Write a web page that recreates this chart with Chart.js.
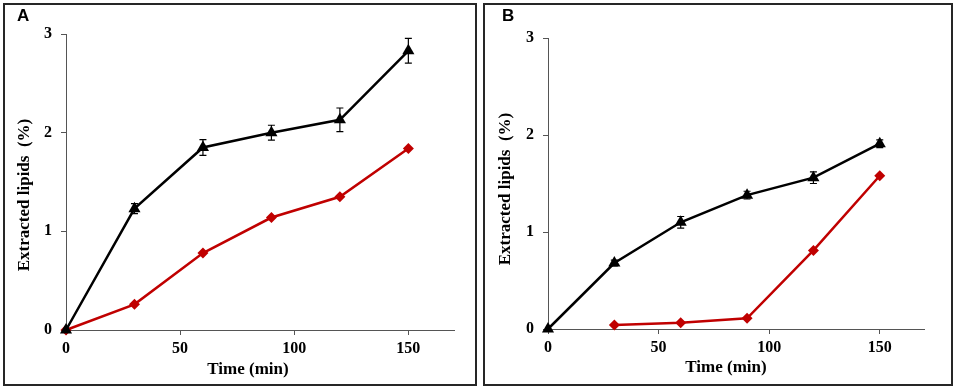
<!DOCTYPE html>
<html><head><meta charset="utf-8">
<script src="https://cdn.jsdelivr.net/npm/chart.js@4.4.1/dist/chart.umd.min.js"></script>
<style>
html,body{margin:0;padding:0;background:#fff}
body{width:957px;height:390px;position:relative;overflow:hidden}
.box{position:absolute;border:2px solid #262626;box-sizing:border-box}
#boxA{left:3px;top:3px;width:474px;height:383px}
#boxB{left:483px;top:3px;width:470px;height:383px}
canvas{position:absolute}
#cA{left:5px;top:5px}
#cB{left:486px;top:5px}
</style></head>
<body>
<div class="box" id="boxA"></div>
<div class="box" id="boxB"></div>
<canvas id="cA" width="470" height="379"></canvas>
<canvas id="cB" width="463" height="379"></canvas>
<script>
// ---- data ----
const timeA = [0, 30, 60, 90, 120, 150];
const blackA = [0, 1.23, 1.85, 2.00, 2.13, 2.83];
const blackAErr = [0, 0.05, 0.08, 0.075, 0.12, 0.125];
const redA = [0, 0.26, 0.78, 1.14, 1.35, 1.84];

const timeB = [0, 30, 60, 90, 120, 150];
const blackB = [0, 0.68, 1.10, 1.38, 1.56, 1.91];
const blackBErr = [0, 0.03, 0.06, 0.04, 0.06, 0.04];
const timeBRed = [30, 60, 90, 120, 150];
const redB = [0.04, 0.065, 0.11, 0.81, 1.58];

const xTicks = [0, 50, 100, 150];
const yTicks = [0, 1, 2, 3];
const xTitle = 'Time (min)';
const yTitle = 'Extracted lipids  (%)';

// ---- styles ----
const RED = '#C00000';
const AXIS = '#555555';
const tickFont = {family: '"Liberation Serif", "Times New Roman", serif', size: 16, weight: 'bold'};

const pts = (xs, ys) => xs.map((x, i) => ({x: x, y: ys[i]}));

const errPlugin = {
  id: 'errbars',
  afterDatasetsDraw(chart, args, opts) {
    const meta = chart.getDatasetMeta(opts.datasetIndex);
    const ds = chart.data.datasets[opts.datasetIndex];
    const ys = chart.scales.y;
    const ctx = chart.ctx;
    ctx.save();
    ctx.strokeStyle = '#000';
    ctx.lineWidth = 1.2;
    meta.data.forEach((el, i) => {
      const e = opts.errors[i];
      if (!e) return;
      const v = ds.data[i].y;
      const x = el.x;
      const y1 = ys.getPixelForValue(v + e), y2 = ys.getPixelForValue(v - e);
      ctx.beginPath();
      ctx.moveTo(x, y1); ctx.lineTo(x, y2);
      ctx.moveTo(x - 3.5, y1); ctx.lineTo(x + 3.5, y1);
      ctx.moveTo(x - 3.5, y2); ctx.lineTo(x + 3.5, y2);
      ctx.stroke();
    });
    ctx.restore();
  }
};

const textPlugin = {
  id: 'texts',
  afterDraw(chart, args, opts) {
    const ctx = chart.ctx, ca = chart.chartArea;
    ctx.save();
    ctx.fillStyle = '#000';
    ctx.font = 'bold 17px "Liberation Serif", "Times New Roman", serif';
    ctx.textAlign = 'center';
    ctx.textBaseline = 'middle';
    ctx.fillText(xTitle, ca.left + opts.xt[0], ca.bottom + opts.xt[1]);
    ctx.translate(ca.left + opts.yt[0], ca.bottom + opts.yt[1]);
    ctx.rotate(-Math.PI / 2);
    ctx.fillText(yTitle, 0, 0);
    ctx.restore();
    ctx.save();
    ctx.fillStyle = '#000';
    ctx.font = 'bold 17px "Liberation Sans", Arial, sans-serif';
    ctx.textAlign = 'left';
    ctx.textBaseline = 'alphabetic';
    ctx.fillText(opts.letter, opts.lp[0], opts.lp[1]);
    ctx.restore();
  }
};

function makeChart(id, datasets, err, layout) {
  return new Chart(document.getElementById(id), {
    type: 'line',
    data: {datasets: datasets},
    plugins: [errPlugin, textPlugin],
    options: {
      responsive: false,
      animation: false,
      layout: {padding: {left: 0, top: layout.top, right: layout.right, bottom: 0}},
      plugins: {
        legend: {display: false},
        tooltip: {enabled: false},
        errbars: {datasetIndex: 0, errors: err},
        texts: {letter: layout.letter, lp: layout.lp, xt: layout.xt, yt: layout.yt}
      },
      scales: {
        x: {
          type: 'linear', min: 0, max: 170,
          afterBuildTicks: s => { s.ticks = xTicks.map(v => ({value: v})); },
          afterFit: s => { s.height = layout.xh; },
          border: {display: true, color: AXIS, width: 1},
          grid: {display: true, drawOnChartArea: false, drawTicks: true, tickLength: 5, color: AXIS},
          ticks: {font: tickFont, color: '#000', padding: 4, maxRotation: 0}
        },
        y: {
          type: 'linear', min: 0, max: 3,
          afterBuildTicks: s => { s.ticks = yTicks.map(v => ({value: v})); },
          afterFit: s => { s.width = layout.yw; },
          border: {display: true, color: AXIS, width: 1},
          grid: {display: true, drawOnChartArea: false, drawTicks: true, tickLength: 5, color: AXIS},
          ticks: {font: tickFont, color: '#000', padding: 9}
        }
      }
    }
  });
}

function blackDs(xs, ys) {
  return {data: pts(xs, ys), borderColor: '#000', backgroundColor: '#000', borderWidth: 2.5,
    pointStyle: 'triangle', pointRadius: 7, pointBorderWidth: 0, pointBackgroundColor: '#000',
    tension: 0, clip: false};
}
function redDs(xs, ys) {
  return {data: pts(xs, ys), borderColor: RED, backgroundColor: RED, borderWidth: 2.5,
    pointStyle: 'rectRot', pointRadius: 5.5, pointBorderWidth: 0, pointBackgroundColor: RED,
    tension: 0, clip: false};
}

makeChart('cA', [blackDs(timeA, blackA), redDs(timeA, redA)], blackAErr,
  {top: 29, right: 21, xh: 54, yw: 61, letter: 'A', lp: [12, 16], xt: [182, 40], yt: [-41, -135]});
makeChart('cB', [blackDs(timeB, blackB), redDs(timeBRed, redB)], blackBErr,
  {top: 33, right: 25, xh: 55, yw: 62, letter: 'B', lp: [16, 16], xt: [178, 39], yt: [-42, -140]});
</script>
</body></html>
